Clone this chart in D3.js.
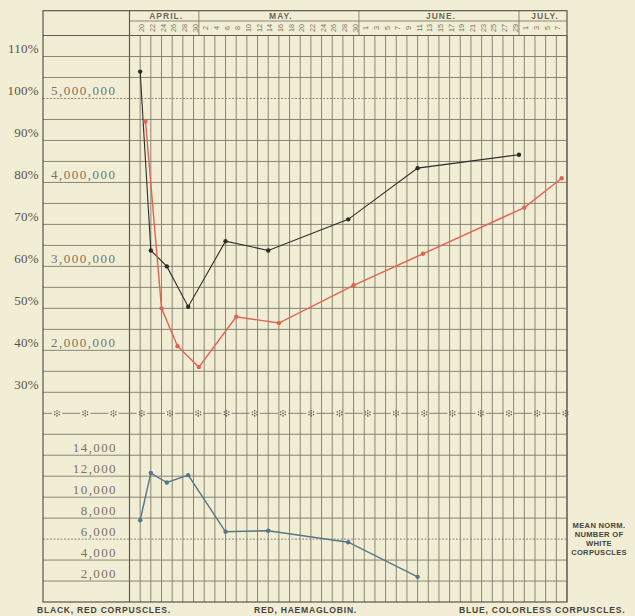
<!DOCTYPE html>
<html>
<head>
<meta charset="utf-8">
<script src="https://cdn.jsdelivr.net/npm/d3@7"></script>
<style>
  html, body { margin: 0; padding: 0; background: #f2eed6; }
  svg { display: block; }
</style>
</head>
<body>
<div id="chart"></div>
<script>
// black line: red corpuscles
const blackDates = ["1890-04-20", "1890-04-22", "1890-04-25", "1890-04-29", "1890-05-06", "1890-05-14", "1890-05-29", "1890-06-11", "1890-06-30"];
const redCorpuscles = [5320000, 3190000, 3000000, 2520000, 3300000, 3190000, 3560000, 4170000, 4330000];

// red line: haemaglobin (per cent)
const haemoDates = ["1890-04-21", "1890-04-24", "1890-04-27", "1890-05-01", "1890-05-08", "1890-05-16", "1890-05-30", "1890-06-12", "1890-07-01", "1890-07-08"];
const haemoglobin = [94.5, 50, 41, 36, 48, 46.5, 55.5, 63, 74, 81];

// blue line: colorless corpuscles
const whiteDates = ["1890-04-20", "1890-04-22", "1890-04-25", "1890-04-29", "1890-05-06", "1890-05-14", "1890-05-29", "1890-06-11"];
const whiteCorpuscles = [7800, 12300, 11400, 12100, 6700, 6800, 5700, 2400];

const percentTicks = [110, 100, 90, 80, 70, 60, 50, 40, 30];
const cellTicks = [5000000, 4000000, 3000000, 2000000];
const whiteTicks = [14000, 12000, 10000, 8000, 6000, 4000, 2000];
const months = ["APRIL.", "MAY.", "JUNE.", "JULY."];
const monthBounds = ["1890-04-18", "1890-05-01", "1890-05-31", "1890-06-30", "1890-07-09"];
const captions = ["BLACK, RED CORPUSCLES.", "RED, HAEMAGLOBIN.", "BLUE, COLORLESS CORPUSCLES."];
const normNote = ["MEAN NORM.", "NUMBER OF", "WHITE", "CORPUSCLES"];

function bloodChart() {
  const width = 635;
  const height = 616;
  const left = 43, right = 567, top = 10.7, bottom = 602;
  const gridColor = "#7d796a";
  const parse = d3.utcParse("%Y-%m-%d");

  const svg = d3.select("#chart").append("svg")
    .attr("width", width)
    .attr("height", height)
    .style("background", "#f2eed6");

  // scales
  const x = d3.scaleUtc()
    .domain([parse("1890-04-18"), parse("1890-07-09")])
    .range([129.5, right]);
  const yPct = d3.scaleLinear().domain([115, 25]).range([35.5, 413.3]);
  const yCells = d3.scaleLinear().domain([5750000, 1250000]).range([35.5, 413.3]);
  const yWhite = d3.scaleLinear().domain([18000, 0]).range([413.3, bottom]);

  const grid = svg.append("g");

  // horizontal lines, upper part
  const upperLines = d3.range(110, 29, -5);
  grid.selectAll(".hu").data(upperLines).join("line")
    .attr("x1", left).attr("x2", right)
    .attr("y1", d => yPct(d)).attr("y2", d => yPct(d))
    .attr("stroke", gridColor)
    .attr("stroke-width", 0.9)
    .attr("stroke-dasharray", d => d === 100 ? "2,1.5" : null);

  // horizontal lines, lower part
  const lowerLines = d3.range(16000, 1, -2000);
  grid.selectAll(".hl").data(lowerLines).join("line")
    .attr("x1", left).attr("x2", right)
    .attr("y1", d => yWhite(d)).attr("y2", d => yWhite(d))
    .attr("stroke", gridColor)
    .attr("stroke-width", 0.9)
    .attr("stroke-dasharray", d => d === 6000 ? "2,1.5" : null);

  // vertical lines every second day
  const gridDays = d3.utcDay.range(parse("1890-04-18"), parse("1890-07-10"), 2);
  grid.selectAll(".v").data(gridDays).join("line")
    .attr("x1", d => x(d)).attr("x2", d => x(d))
    .attr("y1", (d, i) => i === 0 ? top : yPct(115))
    .attr("y2", bottom)
    .attr("stroke", (d, i) => i === 0 ? "#5e5b50" : gridColor)
    .attr("stroke-width", (d, i) => i === 0 ? 1.2 : 0.9);

  // header: month row and separators
  grid.append("line")
    .attr("x1", x.range()[0]).attr("x2", right)
    .attr("y1", 21).attr("y2", 21)
    .attr("stroke", gridColor).attr("stroke-width", 0.9);
  grid.append("line")
    .attr("x1", left).attr("x2", right)
    .attr("y1", yPct(115)).attr("y2", yPct(115))
    .attr("stroke", "#5e5b50").attr("stroke-width", 1);
  grid.selectAll(".ms").data(monthBounds.slice(1, -1)).join("line")
    .attr("x1", d => x(parse(d))).attr("x2", d => x(parse(d)))
    .attr("y1", top).attr("y2", yPct(115))
    .attr("stroke", gridColor).attr("stroke-width", 0.9);

  svg.append("g").selectAll("text").data(months).join("text")
    .attr("x", (d, i) => (x(parse(monthBounds[i])) + x(parse(monthBounds[i + 1]))) / 2 + 2)
    .attr("y", 18.5)
    .attr("text-anchor", "middle")
    .attr("font-family", "Liberation Sans, Arial, sans-serif")
    .attr("font-weight", "bold")
    .attr("font-size", 8.5)
    .attr("letter-spacing", 1)
    .attr("fill", "#6a6759")
    .text(d => d);

  // date labels, rotated
  const labelDays = d3.utcDay.range(parse("1890-04-20"), parse("1890-07-08"), 2);
  svg.append("g").selectAll("text").data(labelDays).join("text")
    .attr("transform", d => `translate(${x(d) + 1.5},28) rotate(-90)`)
    .attr("text-anchor", "middle")
    .attr("dominant-baseline", "central")
    .attr("font-family", "Liberation Sans, Arial, sans-serif")
    .attr("font-size", 7.3)
    .attr("fill", "#77735f")
    .text(d3.utcFormat("%-d"));

  // separator row with little stars
  const starY = yPct(25);
  const starXs = d3.range(57, right + 1, 28.25);
  const gaps = [left].concat(starXs);
  grid.selectAll(".dash").data(d3.pairs(gaps)).join("line")
    .attr("x1", d => d[0] + (d[0] === left ? 0 : 5))
    .attr("x2", d => d[1] - 5)
    .attr("y1", starY).attr("y2", starY)
    .attr("stroke", gridColor).attr("stroke-width", 0.9);
  const stars = svg.append("g").selectAll("g").data(starXs).join("g")
    .attr("transform", d => `translate(${d},${starY})`);
  stars.append("circle").attr("r", 0.9).attr("fill", "#5f5c50");
  d3.range(6).forEach(k => {
    const a = k * Math.PI / 3 - Math.PI / 2;
    stars.append("circle")
      .attr("cx", 2.6 * Math.cos(a)).attr("cy", 2.6 * Math.sin(a))
      .attr("r", 0.8).attr("fill", "#5f5c50");
  });

  // outer frame
  svg.append("rect")
    .attr("x", left).attr("y", top)
    .attr("width", right - left).attr("height", bottom - top)
    .attr("fill", "none")
    .attr("stroke", "#5a574c")
    .attr("stroke-width", 1.2);

  // axes
  function styleAxis(g, fs, color, ls) {
    g.select(".domain").remove();
    g.selectAll("text")
      .attr("dy", "-0.3em")
      .attr("font-family", "Liberation Serif, DejaVu Serif, serif")
      .attr("font-size", fs)
      .attr("letter-spacing", ls)
      .attr("fill", color);
  }

  svg.append("g")
    .attr("transform", "translate(39,0)")
    .call(d3.axisLeft(yPct).tickValues(percentTicks).tickSize(0).tickPadding(0).tickFormat(d => d + "%"))
    .call(g => styleAxis(g, 13, "#56534a", 0.3));

  svg.append("g")
    .attr("transform", "translate(51,0)")
    .call(d3.axisRight(yCells).tickValues(cellTicks).tickSize(0).tickPadding(0).tickFormat(d3.format(",")))
    .call(g => styleAxis(g, 13, "#77735f", 1.5));

  svg.append("g")
    .attr("transform", "translate(117,0)")
    .call(d3.axisLeft(yWhite).tickValues(whiteTicks).tickSize(0).tickPadding(0).tickFormat(d3.format(",")))
    .call(g => styleAxis(g, 13, "#77735f", 1.4));

  // series
  const series = [
    { dates: blackDates, values: redCorpuscles, y: yCells, color: "#2e2d29", w: 1.1 },
    { dates: haemoDates, values: haemoglobin, y: yPct, color: "#e2644f", w: 1.4 },
    { dates: whiteDates, values: whiteCorpuscles, y: yWhite, color: "#587688", w: 1.4 }
  ];

  series.forEach(s => {
    const pts = s.dates.map((d, i) => [x(parse(d)), s.y(s.values[i])]);
    svg.append("path")
      .attr("d", d3.line()(pts))
      .attr("fill", "none")
      .attr("stroke", s.color)
      .attr("stroke-width", s.w);
    svg.append("g").selectAll("circle").data(pts).join("circle")
      .attr("cx", d => d[0]).attr("cy", d => d[1])
      .attr("r", 2.2)
      .attr("fill", s.color);
  });

  // captions
  const capX = [37, 254, 459];
  svg.append("g").selectAll("text").data(captions).join("text")
    .attr("x", (d, i) => capX[i])
    .attr("y", 613)
    .attr("font-family", "Liberation Sans, Arial, sans-serif")
    .attr("font-weight", "bold")
    .attr("font-size", 8.6)
    .attr("letter-spacing", 0.75)
    .attr("fill", "#46443d")
    .text(d => d);

  svg.append("g").selectAll("text").data(normNote).join("text")
    .attr("x", 599)
    .attr("y", (d, i) => 527.5 + i * 9.3)
    .attr("text-anchor", "middle")
    .attr("font-family", "Liberation Sans, Arial, sans-serif")
    .attr("font-weight", "bold")
    .attr("font-size", 7.6)
    .attr("letter-spacing", 0.3)
    .attr("fill", "#46443d")
    .text(d => d);
}

bloodChart();
</script>
</body>
</html>
